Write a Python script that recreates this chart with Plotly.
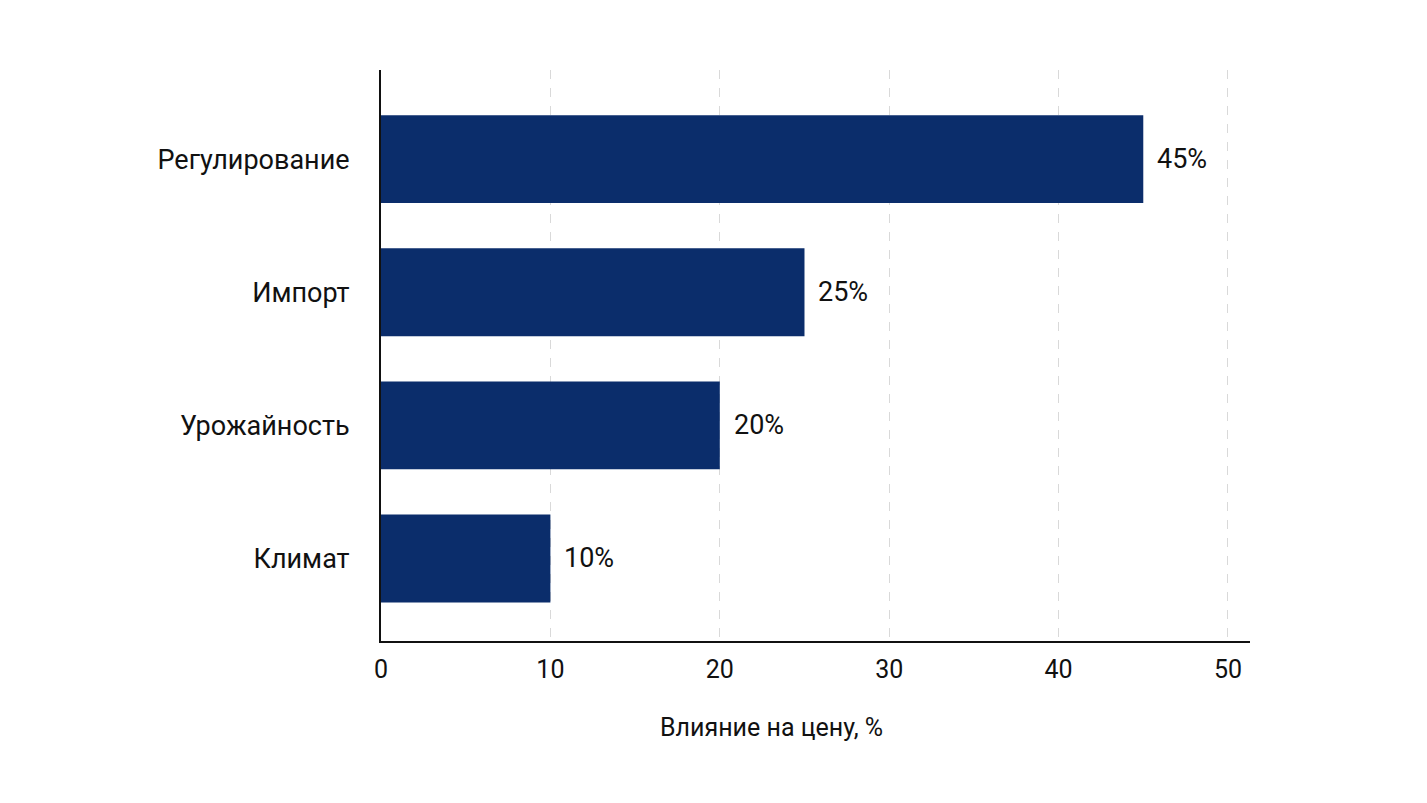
import plotly.graph_objects as go

# data (bottom to top)
factors = ["Климат", "Урожайность", "Импорт", "Регулирование"]
impact = [10, 20, 25, 45]
x_ticks = [0, 10, 20, 30, 40, 50]

bar_colour = "#0b2d6b"
font_family = "Roboto, 'Noto Sans', sans-serif"

fig = go.Figure(
    data=[
        go.Bar(
            x=impact,
            y=factors,
            orientation="h",
            width=0.66,
            marker=dict(color=bar_colour, line=dict(width=0)),
            hoverinfo="skip",
        )
    ]
)

# value labels to the right of each bar
for name, val in zip(factors, impact):
    fig.add_annotation(
        x=val, y=name,
        text=f"{val}%",
        showarrow=False,
        xanchor="left",
        xshift=12,
        font=dict(size=27, color="#111111", family=font_family),
    )

fig.add_annotation(
    x=0.449, y=-0.152,
    xref="paper", yref="paper",
    text="Влияние на цену, %",
    showarrow=False,
    xanchor="center", yanchor="middle",
    font=dict(size=25, color="#111111", family=font_family),
)

fig.update_layout(
    width=1427,
    height=803,
    margin=dict(l=373, r=185, t=62, b=170),
    paper_bgcolor="white",
    plot_bgcolor="white",
    showlegend=False,
    font=dict(family=font_family, size=24, color="#111111"),
)

fig.update_xaxes(
    range=[0, 51.3],
    tickvals=x_ticks,
    showline=True,
    linewidth=2,
    linecolor="#111111",
    showgrid=True,
    gridcolor="#d9d9d9",
    griddash="dash",
    gridwidth=1,
    zeroline=False,
    ticks="",
    ticklabelstandoff=5,
    tickfont=dict(size=25),
)

fig.update_yaxes(
    range=[-0.62, 3.67],
    showline=True,
    linewidth=2,
    linecolor="#111111",
    showgrid=False,
    zeroline=False,
    ticks="",
    ticklabelstandoff=24,
    tickfont=dict(size=27),
)

fig.write_html("out.html")
